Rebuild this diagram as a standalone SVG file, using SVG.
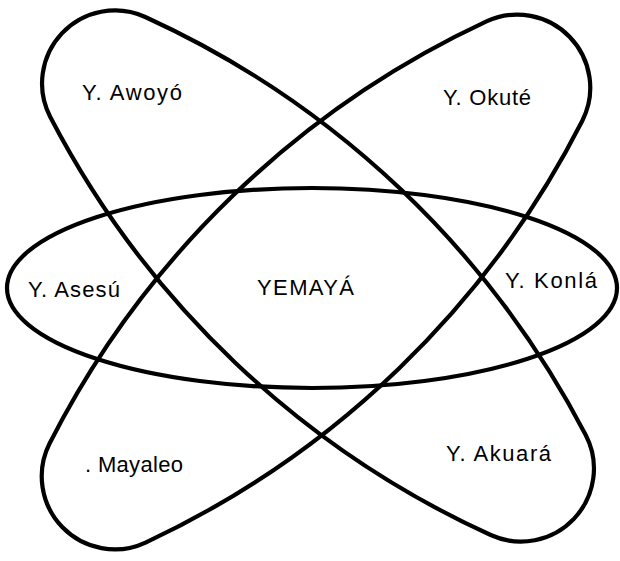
<svg xmlns="http://www.w3.org/2000/svg" width="620" height="561" viewBox="0 0 620 561">
  <defs>
    <style>
      .shape { fill: none; stroke: #000; stroke-width: 4.2; }
      .lbl { font-family: "Liberation Sans", Arial, sans-serif; font-size: 22px; fill: #000; }
    </style>
    <path id="lobe" d="M -303.6 -69 A 932 932 0 0 1 303.6 -69 A 73 73 0 0 1 303.6 69 A 932 932 0 0 1 -303.6 69 A 73 73 0 0 1 -303.6 -69 Z"/>
  </defs>
  <rect width="620" height="561" fill="#fff"/>
  <g id="connectors"></g>
  <g id="shape-awoyo-akuara">
    <use href="#lobe" class="shape" transform="translate(318,276) rotate(43.5)"/>
  </g>
  <g id="shape-okute-mayaleo">
    <use href="#lobe" class="shape" transform="translate(316,282) rotate(-44)"/>
  </g>
  <g id="shape-asesu-konla">
    <ellipse class="shape" cx="312" cy="288" rx="305" ry="100"/>
  </g>
  <g id="node-yemaya"><text class="lbl" x="257" y="295" textLength="97" lengthAdjust="spacing">YEMAYÁ</text></g>
  <g id="node-awoyo"><text class="lbl" x="82" y="100" textLength="100" lengthAdjust="spacing">Y. Awoyó</text></g>
  <g id="node-okute"><text class="lbl" x="443" y="105" textLength="88" lengthAdjust="spacing">Y. Okuté</text></g>
  <g id="node-asesu"><text class="lbl" x="28" y="297" textLength="92" lengthAdjust="spacing">Y. Asesú</text></g>
  <g id="node-konla"><text class="lbl" x="505" y="288" textLength="92" lengthAdjust="spacing">Y. Konlá</text></g>
  <g id="node-mayaleo"><text class="lbl" x="85" y="472" textLength="98" lengthAdjust="spacing">. Mayaleo</text></g>
  <g id="node-akuara"><text class="lbl" x="446" y="461" textLength="105" lengthAdjust="spacing">Y. Akuará</text></g>
</svg>
